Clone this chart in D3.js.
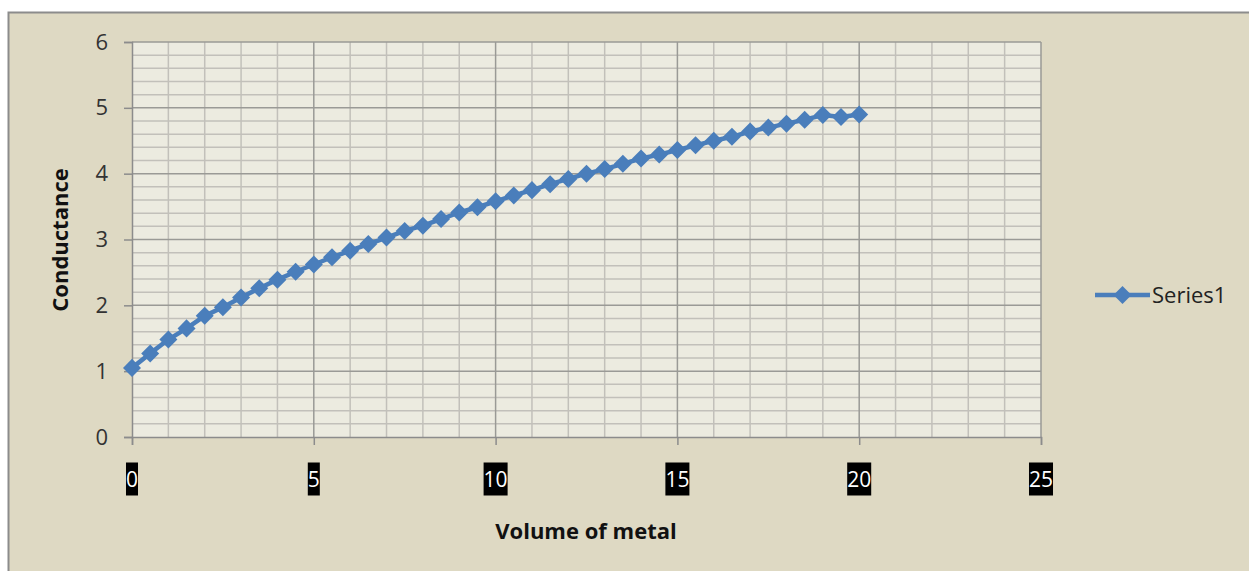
<!DOCTYPE html>
<html>
<head>
<meta charset="utf-8">
<script src="https://cdn.jsdelivr.net/npm/d3@7"></script>
<style>
  html, body { margin: 0; padding: 0; background: #ffffff; }
  svg { display: block; font-family: "Open Sans", "Noto Sans", sans-serif; }
</style>
</head>
<body>
<svg id="chart" width="1249" height="571"></svg>
<script>
// Conductance measured against added volume of metal
const volume = [0, 0.5, 1, 1.5, 2, 2.5, 3, 3.5, 4, 4.5, 5, 5.5, 6, 6.5, 7, 7.5, 8, 8.5, 9, 9.5,
                10, 10.5, 11, 11.5, 12, 12.5, 13, 13.5, 14, 14.5, 15, 15.5, 16, 16.5, 17, 17.5,
                18, 18.5, 19, 19.5, 20];
const conductance = [1.05, 1.27, 1.48, 1.65, 1.84, 1.97, 2.12, 2.26, 2.39, 2.51, 2.62, 2.73, 2.83,
                     2.93, 3.03, 3.13, 3.21, 3.31, 3.41, 3.49, 3.58, 3.67, 3.75, 3.84, 3.92, 4.00,
                     4.07, 4.15, 4.23, 4.29, 4.36, 4.43, 4.50, 4.56, 4.64, 4.70, 4.76, 4.82, 4.89,
                     4.86, 4.90];
const xTicks = [0, 5, 10, 15, 20, 25];
const yTicks = [0, 1, 2, 3, 4, 5, 6];
const seriesName = "Series1";
const xTitle = "Volume of metal";
const yTitle = "Conductance";

const svg = d3.select("#chart");
const blue = "#4a7ebb";

// chart frame
svg.append("rect")
  .attr("x", 8.5).attr("y", 12.5).attr("width", 1260).attr("height", 580)
  .attr("fill", "#ded9c3").attr("stroke", "#8c8c8c").attr("stroke-width", 2);

const plot = { left: 132, right: 1041, top: 42, bottom: 437 };
const x = d3.scaleLinear().domain([0, 25]).range([plot.left, plot.right]);
const y = d3.scaleLinear().domain([0, 6]).range([plot.bottom, plot.top]);

// plot area
svg.append("rect")
  .attr("x", plot.left).attr("y", plot.top)
  .attr("width", plot.right - plot.left).attr("height", plot.bottom - plot.top)
  .attr("fill", "#ecebe0");

// minor gridlines
const g = svg.append("g");
g.selectAll("line.vminor").data(d3.range(1, 25).filter(v => v % 5 !== 0)).join("line")
  .attr("x1", d => x(d)).attr("x2", d => x(d))
  .attr("y1", plot.top).attr("y2", plot.bottom)
  .attr("stroke", "#c2c0ba").attr("stroke-width", 1.5);
g.selectAll("line.hminor").data(d3.range(1, 30).filter(v => v % 5 !== 0).map(v => v / 5)).join("line")
  .attr("x1", plot.left).attr("x2", plot.right)
  .attr("y1", d => y(d)).attr("y2", d => y(d))
  .attr("stroke", "#c2c0ba").attr("stroke-width", 1.5);
// major gridlines
g.selectAll("line.vmajor").data(xTicks.slice(1)).join("line")
  .attr("x1", d => x(d)).attr("x2", d => x(d))
  .attr("y1", plot.top).attr("y2", plot.bottom)
  .attr("stroke", "#9a9a96").attr("stroke-width", 1.5);
g.selectAll("line.hmajor").data(yTicks.slice(1)).join("line")
  .attr("x1", plot.left).attr("x2", plot.right)
  .attr("y1", d => y(d)).attr("y2", d => y(d))
  .attr("stroke", "#9a9a96").attr("stroke-width", 1.5);

// y axis
const yAxis = svg.append("g").attr("transform", `translate(${plot.left},0)`)
  .call(d3.axisLeft(y).tickValues(yTicks).tickSize(8).tickPadding(16).tickFormat(d3.format("d")));
yAxis.select(".domain").attr("stroke", "#8c8c8c").attr("stroke-width", 1.5);
yAxis.selectAll(".tick line").attr("stroke", "#8c8c8c").attr("stroke-width", 1.5);
yAxis.selectAll(".tick text").attr("font-size", 22).attr("fill", "#333")
  .attr("font-family", "'Open Sans', sans-serif");

// x axis
const xAxis = svg.append("g").attr("transform", `translate(0,${plot.bottom})`)
  .call(d3.axisBottom(x).tickValues(xTicks).tickSize(8).tickFormat(d3.format("d")));
xAxis.select(".domain").attr("stroke", "#8c8c8c").attr("stroke-width", 1.5);
xAxis.selectAll(".tick line").attr("stroke", "#8c8c8c").attr("stroke-width", 1.5);
xAxis.selectAll(".tick text").remove();

// x tick labels drawn as white text on black boxes
const xl = svg.append("g").selectAll("g").data(xTicks).join("g")
  .attr("transform", d => `translate(${x(d)},479)`);
xl.append("text")
  .attr("text-anchor", "middle").attr("dy", "0.36em")
  .attr("font-size", 21).attr("fill", "#fff")
  .text(d => d)
  .each(function () {
    const b = this.getBBox();
    d3.select(this.parentNode).insert("rect", "text")
      .attr("x", b.x).attr("y", -16.5).attr("width", b.width).attr("height", 33)
      .attr("fill", "#000");
  });

// series line and diamond markers
const pts = volume.map((v, i) => [v, conductance[i]]);
svg.append("path").datum(pts)
  .attr("fill", "none").attr("stroke", blue).attr("stroke-width", 4.5)
  .attr("stroke-linejoin", "round")
  .attr("d", d3.line().x(d => x(d[0])).y(d => y(d[1])));
const diamond = d3.symbol().type(d3.symbolSquare).size(162);
svg.append("g").selectAll("path").data(pts).join("path")
  .attr("d", diamond)
  .attr("transform", d => `translate(${x(d[0])},${y(d[1])}) rotate(45)`)
  .attr("fill", blue);

// axis titles
svg.append("text")
  .attr("x", 586).attr("y", 539).attr("text-anchor", "middle")
  .attr("font-size", 22).attr("font-weight", 700).attr("fill", "#111")
  .text(xTitle);
svg.append("text")
  .attr("transform", "translate(68,240) rotate(-90)").attr("text-anchor", "middle")
  .attr("font-size", 22).attr("font-weight", 700).attr("fill", "#111")
  .text(yTitle);

// legend
const lg = svg.append("g").attr("transform", "translate(1095,295)");
lg.append("line").attr("x1", 0).attr("x2", 55).attr("stroke", blue).attr("stroke-width", 4.5);
lg.append("path").attr("d", diamond).attr("transform", "translate(27.5,0) rotate(45)").attr("fill", blue);
lg.append("text").attr("x", 57).attr("dy", "0.35em")
  .attr("font-size", 22).attr("fill", "#222").text(seriesName);
</script>
</body>
</html>
